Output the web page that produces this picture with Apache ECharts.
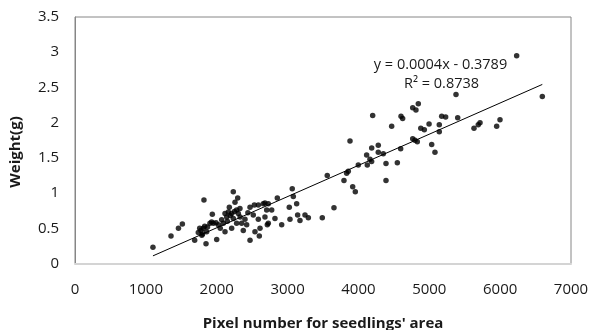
<!DOCTYPE html>
<html>
<head>
<meta charset="utf-8">
<script src="https://cdn.jsdelivr.net/npm/echarts@6/dist/echarts.min.js"></script>
<style>
  html, body { margin: 0; padding: 0; background: #fff; }
  #chart { width: 589px; height: 330px; }
</style>
</head>
<body>
<div id="chart"></div>
<script>
// Seedling area (pixel count) against fresh weight (g)
const pixelArea = [
  1100, 1355, 1460, 1515, 1689, 1740, 1760, 1778, 1790, 1800, 1811, 1820, 1830, 1849, 1858,
  1870, 1905, 1928, 1938, 1952, 1990, 2000, 2023, 2050, 2070, 2093, 2117, 2117, 2141, 2150,
  2164, 2178, 2190, 2211, 2211, 2234, 2234, 2250, 2258, 2281, 2281, 2296, 2305, 2328, 2330,
  2352, 2375, 2399, 2423, 2440, 2470, 2470, 2516, 2531, 2540, 2587, 2587, 2601, 2611, 2657,
  2681, 2681, 2705, 2714, 2728, 2728, 2776, 2822, 2855, 2917, 3024, 3034, 3066, 3081, 3128,
  3142, 3175, 3246, 3293, 3490, 3560, 3655,
  3796, 3834, 3857, 3881, 3919, 3956, 3998, 4116, 4125, 4163, 4186, 4187, 4201, 4280, 4280,
  4351, 4389, 4389, 4469, 4549, 4596, 4601, 4624, 4766, 4766, 4798, 4812, 4831, 4845, 4880,
  4930, 4997, 5034, 5080, 5141, 5141, 5175, 5231, 5377, 5401, 5631, 5691, 5716, 5951, 5998,
  6233, 6595
];
const weight = [
  0.23, 0.39, 0.50, 0.56, 0.33, 0.44, 0.50, 0.47, 0.40, 0.42, 0.50, 0.90, 0.53, 0.28, 0.45,
  0.52, 0.57, 0.59, 0.70, 0.57, 0.58, 0.34, 0.55, 0.50, 0.62, 0.57, 0.71, 0.45, 0.66, 0.60,
  0.73, 0.80, 0.68, 0.71, 0.50, 1.02, 0.64, 0.74, 0.87, 0.76, 0.57, 0.93, 0.71, 0.78, 0.66,
  0.57, 0.47, 0.63, 0.55, 0.72, 0.80, 0.33, 0.69, 0.83, 0.45, 0.83, 0.63, 0.39, 0.50, 0.85,
  0.66, 0.86, 0.76, 0.55, 0.85, 0.57, 0.76, 0.64, 0.93, 0.55, 0.80, 0.63, 1.06, 0.95, 0.85,
  0.69, 0.61, 0.69, 0.65, 0.65, 1.25, 0.79,
  1.18, 1.28, 1.31, 1.74, 1.09, 1.02, 1.40, 1.54, 1.40, 1.48, 1.45, 1.64, 2.10, 1.68, 1.58,
  1.56, 1.42, 1.18, 1.95, 1.43, 1.63, 2.09, 2.06, 2.21, 1.77, 1.75, 2.18, 1.73, 2.27, 1.92,
  1.90, 1.98, 1.69, 1.58, 1.97, 1.87, 2.09, 2.08, 2.40, 2.07, 1.92, 1.97, 2.00, 1.95, 2.04,
  2.95, 2.37
];

// Linear trend fitted to the points
const trendSlope = 0.000443;
const trendIntercept = -0.3789;
const equationText = 'y = 0.0004x - 0.3789';
const rSquaredText = 'R² = 0.8738';

const xTicks = { min: 0, max: 7000, step: 1000 };
const yTicks = { min: 0, max: 3.5, step: 0.5 };

const xAxisTitle = "Pixel number for seedlings' area";
const yAxisTitle = 'Weight(g)';

const points = pixelArea.map((x, i) => [x, weight[i]]);
const xLo = Math.min(...pixelArea);
const xHi = Math.max(...pixelArea);
const trendPoints = [xLo, xHi].map(x => [x, trendSlope * x + trendIntercept]);

const font = '"Open Sans", Lato, sans-serif';
const ink = '#1a1a1a';

const chart = echarts.init(document.getElementById('chart'), null, { renderer: 'canvas' });
chart.setOption({
  backgroundColor: '#ffffff',
  animation: false,
  textStyle: { fontFamily: font },
  grid: {
    left: 75, right: 18, top: 17, bottom: 66.5,
    containLabel: false,
    outerBoundsMode: 'none',
    show: true, borderColor: '#868686', borderWidth: 1,
    backgroundColor: 'transparent'
  },
  xAxis: {
    type: 'value',
    min: xTicks.min, max: xTicks.max, interval: xTicks.step,
    axisLine: { show: true, onZero: false, lineStyle: { color: '#d4d4d4', width: 2 } },
    axisTick: { show: false },
    splitLine: { show: false },
    axisLabel: {
      fontSize: 15, color: ink, margin: 19, fontFamily: font,
      formatter: v => String(v)
    },
    name: xAxisTitle,
    nameLocation: 'middle',
    nameGap: 53,
    nameTextStyle: { fontSize: 15, fontWeight: 'bold', color: ink, fontFamily: font }
  },
  yAxis: {
    type: 'value',
    min: yTicks.min, max: yTicks.max, interval: yTicks.step,
    axisLine: { show: true, lineStyle: { color: '#868686', width: 1 } },
    axisTick: { show: false },
    splitLine: { show: false },
    axisLabel: {
      fontSize: 15, color: ink, margin: 16, fontFamily: font,
      formatter: v => String(v)
    }
  },
  graphic: [
    {
      type: 'text', x: 16, y: 152, rotation: Math.PI / 2,
      style: {
        text: yAxisTitle, fontSize: 15, fontWeight: 'bold', fill: ink,
        fontFamily: font, align: 'center', verticalAlign: 'middle'
      }
    },
    {
      type: 'text', x: 440.5, y: 65,
      style: {
        text: equationText, fontSize: 14.5, fill: ink,
        fontFamily: font, align: 'center', verticalAlign: 'middle'
      }
    },
    {
      type: 'text', x: 441.5, y: 83.5,
      style: {
        text: rSquaredText, fontSize: 14.5, fill: ink,
        fontFamily: font, align: 'center', verticalAlign: 'middle'
      }
    }
  ],
  series: [
    {
      type: 'scatter',
      data: points,
      symbol: 'circle',
      symbolSize: 5.5,
      itemStyle: { color: '#000000' },
      z: 3
    },
    {
      type: 'line',
      data: trendPoints,
      symbol: 'none',
      lineStyle: { color: '#000000', width: 1 },
      z: 2
    }
  ]
});
</script>
</body>
</html>
